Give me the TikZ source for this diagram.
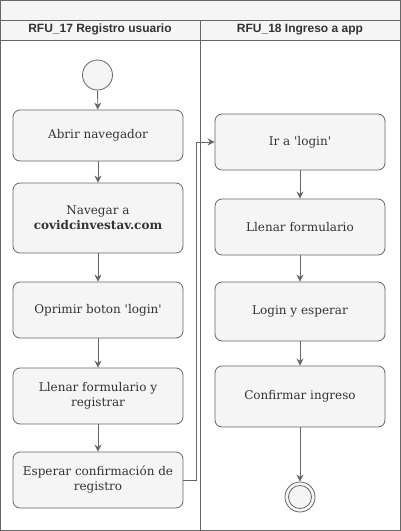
\documentclass[tikz,border=0pt]{standalone}
\usepackage{fontspec}
\setmainfont{DejaVu Serif}[Ligatures=TeXOff]
\newfontfamily\headfont{Liberation Sans}
\usetikzlibrary{arrows.meta}
\definecolor{strk}{HTML}{666666}
\definecolor{fillg}{HTML}{F5F5F5}
\definecolor{txt}{HTML}{333333}
\tikzset{
  act/.style={draw=strk, fill=fillg, rounded corners=7pt, line width=0.8pt,
    minimum width=170pt, align=center, text=txt,
    font=\fontsize{12}{15}\selectfont, inner sep=2pt},
  conn/.style={draw=strk, line width=0.9pt, -{Stealth[length=7pt,width=7pt]}},
  lane/.style={draw=strk, line width=0.9pt},
  hdr/.style={text=txt, font=\headfont\bfseries\fontsize{12}{14}\selectfont}
}
\begin{document}
\begin{tikzpicture}[x=1pt,y=-1pt]
\useasboundingbox (0,0) rectangle (401,531);
% pool
\fill[fillg] (0.5,0.5) rectangle (400.5,40);
\draw[lane] (0.5,0.5) rectangle (400.5,530.5);
\draw[lane] (0.5,20) -- (400.5,20);
\draw[lane] (0.5,40) -- (400.5,40);
\draw[lane] (200.5,20) -- (200.5,530.5);
\node[hdr] (h1) at (100,29.5) {RFU\_17 Registro usuario};
\node[hdr] (h2) at (300,29.5) {RFU\_18 Ingreso a app};
% left lane
\node[circle, draw=strk, fill=fillg, line width=0.8pt, minimum size=30pt, inner sep=0pt] (start) at (97.5,75) {};
\node[act, minimum height=51pt] (a1) at (98,135.5) {Abrir navegador};
\node[act, minimum height=70pt] (a2) at (98,218) {Navegar a\\\textbf{covidcinvestav.com}};
\node[act, minimum height=56pt] (a3) at (98,310) {Oprimir boton 'login'};
\node[act, minimum height=56pt] (a4) at (98,396) {Llenar formulario y\\registrar};
\node[act, minimum height=56pt] (a5) at (98,480) {Esperar confirmación de\\registro};
% right lane
\node[act, minimum height=56pt] (b1) at (300,142) {Ir a 'login'};
\node[act, minimum height=56pt] (b2) at (300,227) {Llenar formulario};
\node[act, minimum height=59pt] (b3) at (300,311.5) {Login y esperar};
\node[act, minimum height=61pt] (b4) at (300,396.5) {Confirmar ingreso};
\node[circle, draw=strk, fill=fillg, line width=0.8pt, minimum size=30pt, inner sep=0pt] (end) at (300,497) {};
\node[circle, draw=strk, fill=fillg, line width=0.8pt, minimum size=23pt, inner sep=0pt] (endin) at (end) {};
% connectors
\draw[conn] (start) -- (a1);
\draw[conn] (a1) -- (a2);
\draw[conn] (a2) -- (a3);
\draw[conn] (a3) -- (a4);
\draw[conn] (a4) -- (a5);
\coordinate (c1) at (196,480);
\coordinate (c2) at (196,142);
\draw[conn] (a5.east) -- (c1) -- (c2) -- (b1.west);
\draw[conn] (b1) -- (b2);
\draw[conn] (b2) -- (b3);
\draw[conn] (b3) -- (b4);
\draw[conn] (b4) -- (end);
\end{tikzpicture}
\end{document}
